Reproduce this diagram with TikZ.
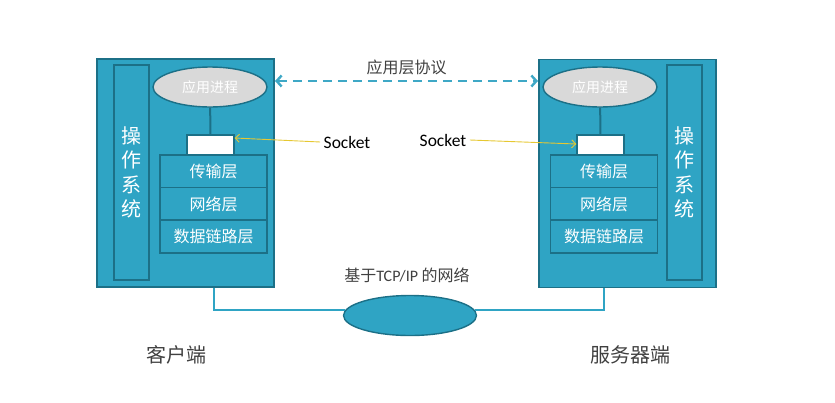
\documentclass[tikz,border=0pt]{standalone}
\usepackage{fontspec}
\setmainfont{Noto Sans CJK SC}
\newfontfamily\latinfont{Carlito}
\usetikzlibrary{shapes.geometric,arrows.meta}

\definecolor{hostfill}{RGB}{47,164,196}
\definecolor{hostline}{RGB}{28,112,135}
\definecolor{protoline}{RGB}{62,168,198}
\definecolor{sockline}{RGB}{230,200,50}
\definecolor{labelgray}{RGB}{64,64,64}

\begin{document}
\begin{tikzpicture}[x=1pt,y=-1pt,
  host/.style={draw=hostline,line width=1.6pt,fill=hostfill,minimum width=177pt,minimum height=228pt,inner sep=0pt},
  osbar/.style={draw=hostline,line width=1.6pt,fill=hostfill,minimum width=35pt,minimum height=215pt,inner sep=0pt,
    text=white,align=center,font=\fontsize{20}{24.5}\selectfont},
  proc/.style={ellipse,draw=hostline,line width=1.4pt,fill=black!15,minimum width=114pt,minimum height=40pt,inner sep=0pt,
    text=white,font=\fontsize{14}{16}\selectfont},
  sockbox/.style={draw=hostline,line width=1.4pt,fill=white,minimum width=47pt,minimum height=20pt,inner sep=0pt},
  layer/.style={draw=hostline,line width=1.4pt,fill=hostfill,minimum width=107pt,minimum height=33pt,inner sep=0pt,
    text=white,font=\fontsize{16}{18}\selectfont},
  link/.style={draw=hostline,line width=2pt},
  netlink/.style={draw=hostfill,line width=2pt},
  sockarrow/.style={draw=sockline,line width=0.9pt,-{Straight Barb[length=4pt,width=8pt]}},
  sockname/.style={font=\latinfont\fontsize{17.5}{20}\selectfont},
  label/.style={text=labelgray,font=\fontsize{16}{18}\selectfont}]

  \useasboundingbox (0,0) rectangle (835,402);

  % client
  \node[host] (cbox) at (185.5,173) {};
  \node[osbar] (cos) at (131.5,172.5) {操\\作\\系\\统};
  \node[proc] (cproc) at (210,87) {应用进程};
  \node[sockbox] (csock) at (210.5,145) {};
  \node[layer] (ctrans) at (213.5,171.5) {传输层};
  \node[layer] (cnet) at (213.5,204) {网络层};
  \node[layer] (clink) at (213.5,236.5) {数据链路层};
  \draw[link] (cproc) -- (csock);

  % server
  \node[host] (sbox) at (627.5,173.5) {};
  \node[osbar] (sos) at (684.5,172.5) {操\\作\\系\\统};
  \node[proc] (sproc) at (600,87) {应用进程};
  \node[sockbox] (ssock) at (600.5,145) {};
  \node[layer] (strans) at (604,171.5) {传输层};
  \node[layer] (snet) at (604,204) {网络层};
  \node[layer] (slink) at (604,236.5) {数据链路层};
  \draw[link] (sproc) -- (ssock);

  % application protocol
  \coordinate (pl) at (275,81);
  \coordinate (pr) at (538,81);
  \draw[protoline,line width=2.4pt,dash pattern=on 9pt off 6pt,{Straight Barb[length=5pt,width=11pt]}-{Straight Barb[length=5pt,width=11pt]}]
    (pl) -- (pr) node[midway,above=2pt,label] {应用层协议};

  % sockets
  \node[sockname] (csl) at (347,142) {Socket};
  \node[sockname] (ssl) at (443,140) {Socket};
  \draw[sockarrow] (csl.west) -- ([yshift=7pt]csock.east);
  \draw[sockarrow] (ssl.east) -- ([yshift=1pt]ssock.west);

  % network
  \node[ellipse,draw=hostline,line width=1.4pt,fill=hostfill,minimum width=133pt,minimum height=40pt] (net) at (410,315.5) {};
  \node[label] (netl) at (407,275) {基于{\latinfont TCP/IP} 的网络};
  \coordinate (cport) at (214,288);
  \coordinate (sport) at (604,288);
  \draw[netlink] (cport) |- (net.175);
  \draw[netlink] (sport) |- (net.5);

  \node[label,font=\fontsize{20}{24}\selectfont] (cname) at (176,355) {客户端};
  \node[label,font=\fontsize{20}{24}\selectfont] (sname) at (630,355) {服务器端};
\end{tikzpicture}
\end{document}
